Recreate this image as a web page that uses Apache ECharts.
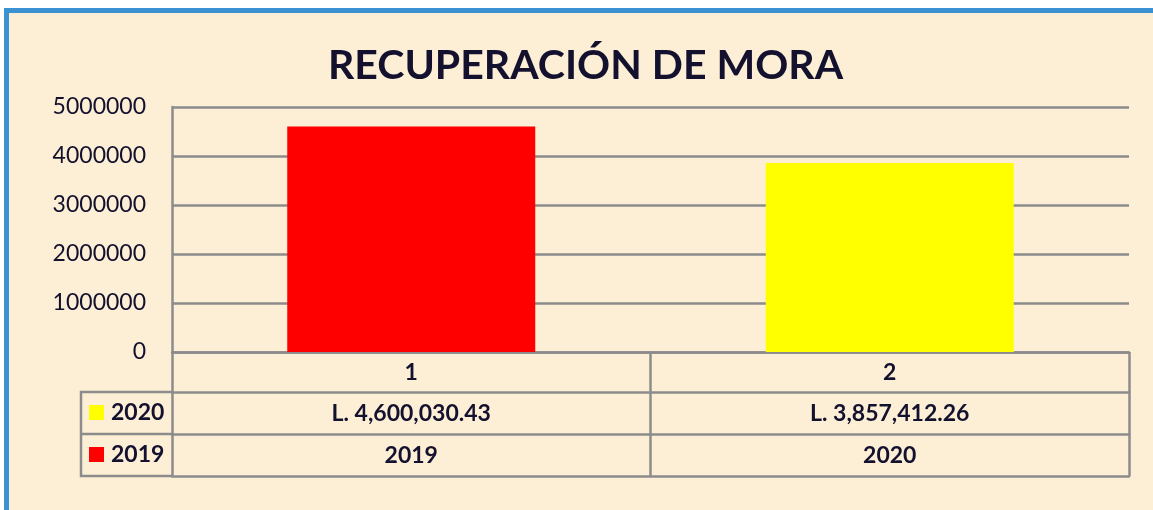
<!DOCTYPE html>
<html>
<head>
<meta charset="utf-8">
<script src="https://cdn.jsdelivr.net/npm/echarts@6/dist/echarts.min.js"></script>
<style>
  html, body { margin: 0; padding: 0; background: #ffffff; }
  #frame { position: absolute; left: 4px; top: 8px; width: 1149px; height: 502px; box-sizing: border-box;
           border-top: 5px solid #3b92d2; border-left: 5px solid #3b92d2; background: #fcefd5; }
  #chart { position: absolute; left: 0; top: 0; width: 1153px; height: 510px; }
</style>
</head>
<body>
<div id="frame"></div>
<div id="chart"></div>
<script>
// ---- data ----
const title = 'RECUPERACIÓN DE MORA';
const categories = ['1', '2'];
const seriesNames = ['2020', '2019'];
const values2020 = [4600030.43, 3857412.26];
const row2019Labels = ['2019', '2020'];
const barColors = ['#ff0000', '#ffff00'];
const legendColors = ['#ffff00', '#ff0000'];
const yMin = 0, yMax = 5000000, yInterval = 1000000;

// ---- styling ----
const FONT = 'Lato';
const TEXT = '#14112e';
const LINE = '#8c8c8c';
const LW = 2.5;
const gridLeft = 172, gridRight = 24, gridTop = 107, gridBottom = 158;
const rowHeights = [40, 42, 42];
const TABLE_FS = 23;

function money(v) {
  return 'L. ' + v.toLocaleString('en-US', { minimumFractionDigits: 2, maximumFractionDigits: 2 });
}

function tableAxis(data, offset, rowH, showLabels, formatter) {
  return {
    type: 'category', data: data, position: 'bottom', offset: offset, gridIndex: 0,
    boundaryGap: true,
    axisLine: { show: true, onZero: false, lineStyle: { color: LINE, width: LW } },
    axisTick: { show: rowH > 0, length: rowH, alignWithLabel: false, lineStyle: { color: LINE, width: LW } },
    axisLabel: { show: showLabels, margin: rowH / 2 + 1, verticalAlign: 'middle', fontFamily: FONT, fontWeight: 'bold',
                 fontSize: TABLE_FS, color: TEXT, formatter: formatter },
    splitLine: { show: false }
  };
}

const off1 = rowHeights[0];
const off2 = rowHeights[0] + rowHeights[1];
const off3 = off2 + rowHeights[2];
const tableLeft = 81;
const tableTop = 510 - gridBottom + off1;

const chart = echarts.init(document.getElementById('chart'), null, { renderer: 'canvas' });
chart.setOption({
  backgroundColor: 'transparent',
  animation: false,
  title: {
    text: title, left: 328, top: 45, padding: 0,
    textStyle: { fontFamily: FONT, fontWeight: 'bold', fontSize: 41, color: TEXT }
  },
  grid: { left: gridLeft, right: gridRight, top: gridTop, bottom: gridBottom, containLabel: false },
  legend: {
    data: seriesNames, orient: 'vertical', left: 89, top: tableTop + 9, padding: 0,
    itemWidth: 15, itemHeight: 15, itemGap: 19, icon: 'rect', selectedMode: false,
    textStyle: { fontFamily: FONT, fontWeight: 'bold', fontSize: TABLE_FS, lineHeight: 23, color: TEXT, padding: [0, 0, 0, 2] }
  },
  xAxis: [
    tableAxis(categories, 0, rowHeights[0], true),
    tableAxis(values2020, off1, rowHeights[1], true, function (v) { return money(Number(v)); }),
    tableAxis(row2019Labels, off2, rowHeights[2], true),
    tableAxis(categories, off3, 0, false)
  ],
  yAxis: {
    type: 'value', min: yMin, max: yMax, interval: yInterval,
    axisLine: { show: true, lineStyle: { color: LINE, width: LW } },
    axisTick: { show: false },
    axisLabel: { margin: 26, fontFamily: FONT, fontSize: 23, color: TEXT, formatter: function (v) { return String(v); } },
    splitLine: { show: true, lineStyle: { color: LINE, width: LW } }
  },
  series: [
    {
      name: seriesNames[0], type: 'bar', xAxisIndex: 0, barWidth: 248, barGap: '-100%',
      itemStyle: { color: legendColors[0] },
      data: values2020.map(function (v, i) { return { value: v, itemStyle: { color: barColors[i] } }; })
    },
    {
      name: seriesNames[1], type: 'bar', xAxisIndex: 0, barWidth: 248, barGap: '-100%',
      itemStyle: { color: legendColors[1] },
      data: row2019Labels.map(function () { return 0; })
    }
  ],
  graphic: [
    { type: 'polyline', silent: true, shape: { points: [[gridLeft, tableTop], [tableLeft, tableTop], [tableLeft, tableTop + rowHeights[1] + rowHeights[2]], [gridLeft, tableTop + rowHeights[1] + rowHeights[2]]] },
      style: { fill: null, stroke: LINE, lineWidth: LW } },
    { type: 'line', silent: true, shape: { x1: tableLeft, y1: tableTop + rowHeights[1], x2: gridLeft, y2: tableTop + rowHeights[1] },
      style: { stroke: LINE, lineWidth: LW } }
  ]
});
</script>
</body>
</html>
